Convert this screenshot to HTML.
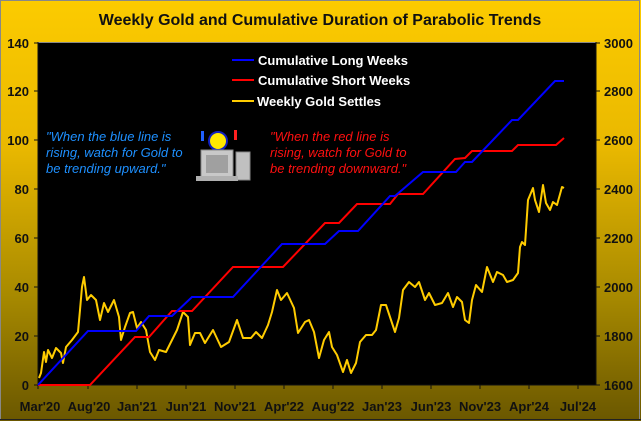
<!DOCTYPE html>
<html><head><meta charset="utf-8"><style>
html,body{margin:0;padding:0;background:#000;}
svg{display:block;}
text{font-family:"Liberation Sans",Arial,sans-serif;}
</style></head><body>
<svg width="641" height="421" viewBox="0 0 641 421" xmlns="http://www.w3.org/2000/svg">
<defs>
<linearGradient id="bg" x1="0" y1="0" x2="0" y2="1">
<stop offset="0" stop-color="#fccb00"/>
<stop offset="0.35" stop-color="#e9b800"/>
<stop offset="0.7" stop-color="#a88a00"/>
<stop offset="1" stop-color="#6a5700"/>
</linearGradient>
</defs>
<rect x="0" y="0" width="641" height="421" fill="url(#bg)"/>
<rect x="0.5" y="0.5" width="639" height="419" fill="none" stroke="#888" stroke-width="1"/>
<line x1="0" y1="419.5" x2="641" y2="419.5" stroke="#222"/>
<text x="320" y="25" font-size="16" font-weight="bold" text-anchor="middle" fill="#111">Weekly Gold and Cumulative Duration of Parabolic Trends</text>
<rect x="38" y="42" width="558" height="343" fill="#000"/>
<line x1="38" y1="42.5" x2="596" y2="42.5" stroke="#888"/>
<g font-size="13" font-weight="bold" fill="#111">
<g text-anchor="end">
<text x="29" y="390">0</text><text x="29" y="341">20</text><text x="29" y="292">40</text>
<text x="29" y="243">60</text><text x="29" y="194">80</text><text x="29" y="145">100</text>
<text x="29" y="96">120</text><text x="29" y="48">140</text>
</g>
<g text-anchor="start">
<text x="604" y="390">1600</text><text x="604" y="292">2000</text><text x="604" y="341">1800</text>
<text x="604" y="243">2200</text><text x="604" y="194">2400</text><text x="604" y="145">2600</text>
<text x="604" y="96">2800</text><text x="604" y="48">3000</text>
</g>
<g text-anchor="middle">
<text x="40" y="411">Mar'20</text><text x="89" y="411">Aug'20</text><text x="137" y="411">Jan'21</text>
<text x="186" y="411">Jun'21</text><text x="235" y="411">Nov'21</text><text x="284" y="411">Apr'22</text>
<text x="333" y="411">Aug'22</text><text x="382" y="411">Jan'23</text><text x="431" y="411">Jun'23</text>
<text x="480" y="411">Nov'23</text><text x="529" y="411">Apr'24</text><text x="578" y="411">Jul'24</text>
</g>
</g>
<g stroke="#111" stroke-width="1">
<line x1="38" y1="42" x2="38" y2="389"/><line x1="34" y1="385" x2="596" y2="385"/>
<line x1="596" y1="42" x2="596" y2="385"/>
<line x1="34" y1="43" x2="38" y2="43"/><line x1="34" y1="91" x2="38" y2="91"/><line x1="34" y1="140" x2="38" y2="140"/><line x1="34" y1="189" x2="38" y2="189"/><line x1="34" y1="238" x2="38" y2="238"/><line x1="34" y1="287" x2="38" y2="287"/><line x1="34" y1="336" x2="38" y2="336"/>
<line x1="596" y1="43" x2="600" y2="43"/><line x1="596" y1="91" x2="600" y2="91"/><line x1="596" y1="140" x2="600" y2="140"/><line x1="596" y1="189" x2="600" y2="189"/><line x1="596" y1="238" x2="600" y2="238"/><line x1="596" y1="287" x2="600" y2="287"/><line x1="596" y1="336" x2="600" y2="336"/><line x1="596" y1="385" x2="600" y2="385"/>
<line x1="88" y1="385" x2="88" y2="389"/><line x1="137" y1="385" x2="137" y2="389"/><line x1="186" y1="385" x2="186" y2="389"/><line x1="235" y1="385" x2="235" y2="389"/><line x1="284" y1="385" x2="284" y2="389"/><line x1="333" y1="385" x2="333" y2="389"/><line x1="382" y1="385" x2="382" y2="389"/><line x1="431" y1="385" x2="431" y2="389"/><line x1="480" y1="385" x2="480" y2="389"/><line x1="529" y1="385" x2="529" y2="389"/><line x1="578" y1="385" x2="578" y2="389"/>
</g>
<polyline fill="none" stroke="#ffcc00" stroke-width="2" stroke-linejoin="round" points="39,378 41,373 44,352 46,362 48,350 52,358 56,348 61,353 63,363 66,347 72,340 78,332 80,310 82,287 84,277 87,300 91,295 96,300 100,320 104,303 108,312 114,300 119,317 121,340 125,327 130,313 133,312 137,328 141,322 146,330 150,352 155,360 159,350 166,352 171,342 177,330 183,312 188,317 190,345 195,333 200,333 205,343 213,330 221,347 229,342 237,320 243,338 251,338 256,332 262,338 268,325 272,312 277,290 281,300 287,293 294,308 298,333 305,322 309,320 314,332 319,358 324,340 329,332 332,347 337,355 343,372 347,360 351,373 356,363 360,342 366,335 372,335 376,330 381,305 386,305 390,317 395,332 399,318 403,290 409,282 415,287 419,282 425,300 429,293 435,305 442,303 448,293 453,307 457,297 462,302 465,320 469,323 472,300 476,285 482,292 487,267 493,282 497,272 503,275 507,282 513,280 518,273 520,247 522,242 525,245 528,200 533,188 535,200 539,212 543,185 546,203 550,210 553,202 557,205 562,187 564,188"/>
<polyline fill="none" stroke="#ff0000" stroke-width="2" points="38,385 90,385 135,337 149,337 172,311 192,311 233,267 283,267 325,223 339,223 357,204 390,204 398,194 423,194 455,159 465,158 472,151 512,151 518,145 556,145 564,138"/>
<polyline fill="none" stroke="#0000ff" stroke-width="2" points="38,385 88,331 136,331 149,316 172,316 192,297 233,297 282,244 325,244 339,231 358,231 390,196 395,196 423,172 456,172 465,162 472,162 512,120 518,120 555,81 564,81"/>
<g font-size="13" font-weight="bold" fill="#fff">
<line x1="232" y1="60" x2="254" y2="60" stroke="#0000ff" stroke-width="2"/><text x="258" y="65">Cumulative Long Weeks</text>
<line x1="232" y1="80" x2="254" y2="80" stroke="#ff0000" stroke-width="2"/><text x="258" y="85">Cumulative Short Weeks</text>
<line x1="232" y1="101" x2="254" y2="101" stroke="#ffcc00" stroke-width="2"/><text x="257" y="106">Weekly Gold Settles</text>
</g>
<g font-size="13" font-style="italic" fill="#1e90ff">
<text x="46" y="141">"When the blue line is</text>
<text x="46" y="157">rising, watch for Gold to</text>
<text x="46" y="173">be trending upward."</text>
</g>
<g font-size="13" font-style="italic" fill="#ff1010">
<text x="270" y="141">"When the red line is</text>
<text x="270" y="157">rising, watch for Gold to</text>
<text x="270" y="173">be trending downward."</text>
</g>
<g>
<rect x="201" y="131" width="3" height="10" fill="#2060ff"/>
<rect x="234" y="130" width="3" height="10" fill="#ff2020"/>
<circle cx="218" cy="141" r="9" fill="#ffe800" stroke="#1020c0" stroke-width="2"/>
<rect x="201" y="150" width="32" height="28" fill="#c8c8c8" stroke="#888"/>
<rect x="206" y="155" width="22" height="18" fill="#a0a0a0"/>
<rect x="236" y="152" width="14" height="28" fill="#c0c0c0" stroke="#888"/>
<rect x="196" y="176" width="42" height="5" fill="#b0b0b0"/>
</g>
</svg>
</body></html>
